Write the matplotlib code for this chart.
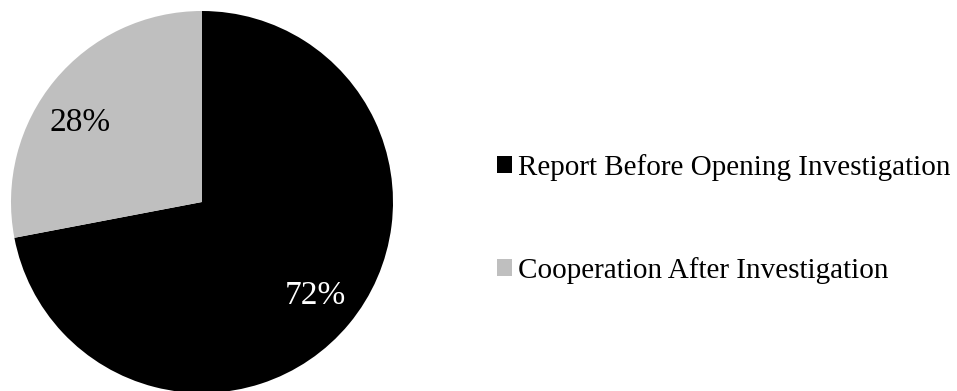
import numpy as np
import matplotlib
matplotlib.use("Agg")
import matplotlib.pyplot as plt
from matplotlib.patches import Patch

plt.rcParams["font.family"] = ["Liberation Serif", "DejaVu Serif"]

categories = ["Report Before Opening Investigation", "Cooperation After Investigation"]
shares = [72, 28]
colors = ["#000000", "#BFBFBF"]
label_colors = ["white", "black"]

fig = plt.figure(figsize=(9.57, 3.91), dpi=100)
ax = fig.add_axes([11 / 957, -2 / 391, 382 / 957, 382 / 391])

wedges, texts, autotexts = ax.pie(
    shares,
    colors=colors,
    startangle=90,
    counterclock=False,
    autopct=lambda p: f"{p:.0f}%",
    pctdistance=0.77,
    radius=1.0,
    wedgeprops=dict(linewidth=0),
    textprops=dict(fontsize=24),
)
for t, c in zip(autotexts, label_colors):
    t.set_color(c)

# the grey slice's percentage sits a little higher along the arc
ang = np.deg2rad(147)
autotexts[1].set_position((0.76 * np.cos(ang), 0.76 * np.sin(ang)))

ax.set_xlim(-1, 1)
ax.set_ylim(-1, 1)
ax.set_aspect("equal")
ax.axis("off")

handles = [Patch(facecolor=c, edgecolor="none") for c in colors]
fig.legend(
    handles,
    categories,
    loc="center left",
    bbox_to_anchor=(471 / 957, 0.44),
    frameon=False,
    fontsize=21,
    handlelength=0.5,
    handleheight=0.5,
    handletextpad=0.2,
    labelspacing=2.6,
)

fig.savefig("out.png", dpi=100)
